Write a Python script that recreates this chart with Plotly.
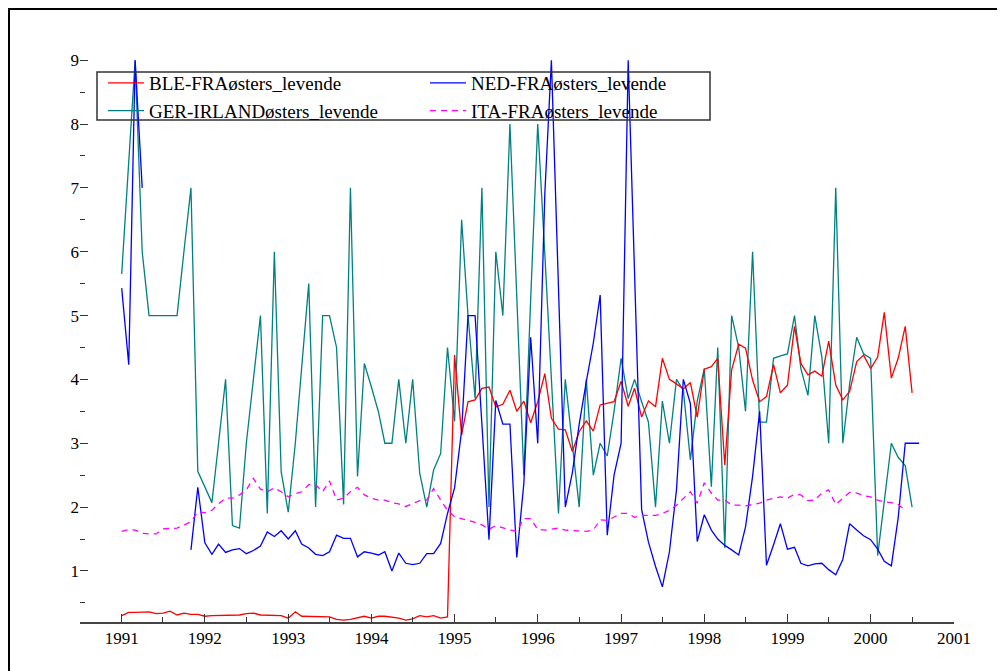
import pandas as pd
import plotly.graph_objects as go

ble = [0.30,0.35,0.35,0.35,0.36,0.33,0.34,0.37,0.31,0.34,0.32,0.32,
       0.29,0.30,0.30,0.31,0.30,0.31,0.33,0.34,0.31,0.31,0.30,0.30,
       0.26,0.36,0.29,0.29,0.28,0.29,0.28,0.24,0.23,0.24,0.26,0.29,
       0.26,0.29,0.29,0.28,0.26,0.23,0.25,0.30,0.28,0.30,0.26,0.28,
       4.38,3.13,3.65,3.68,3.86,3.88,3.57,3.61,3.83,3.50,3.66,3.32,
       3.65,4.09,3.39,3.22,3.21,2.87,3.18,3.35,3.19,3.60,3.62,3.65,
       3.97,3.58,3.86,3.41,3.66,3.57,4.33,4.00,3.93,3.85,3.95,3.41,
       4.16,4.20,4.33,2.66,4.15,4.55,4.49,3.99,3.65,3.73,4.23,3.79,
       3.91,4.83,4.25,4.07,4.13,4.05,4.60,3.91,3.68,3.81,4.28,4.38,
       4.17,4.35,5.05,4.02,4.33,4.83,3.79]

ned = [5.43,4.23,9.0,7.0,None,None,None,None,None,None,1.33,2.31,
       1.44,1.26,1.42,1.29,1.33,1.35,1.27,1.32,1.39,1.61,1.54,1.63,
       1.50,1.63,1.42,1.36,1.26,1.24,1.30,1.56,1.51,1.51,1.22,1.30,
       1.28,1.25,1.30,1.00,1.28,1.12,1.10,1.12,1.27,1.27,1.43,1.90,
       2.30,3.20,5.0,5.0,3.30,1.49,3.67,3.30,3.30,1.21,2.37,4.66,
       3.0,6.9,9.0,5.5,2.0,2.54,3.3,3.96,4.57,5.32,1.56,2.5,
       3.0,9.0,5.5,1.96,1.45,1.07,0.75,1.3,2.27,4.0,3.62,1.46,
       1.88,1.64,1.5,1.4,1.33,1.25,1.69,2.48,3.5,1.09,1.41,1.74,
       1.34,1.37,1.12,1.08,1.11,1.12,1.02,0.94,1.18,1.74,1.64,1.55,
       1.49,1.34,1.15,1.08,1.83,3.0,3.0,3.0]

ger = [5.65,7.33,9.0,6.0,5.0,5.0,5.0,5.0,5.0,6.0,7.0,2.56,
       2.3,2.07,3.0,4.0,1.71,1.67,3.0,4.0,5.0,1.9,6.0,2.55,
       1.92,3.0,4.2,5.5,2.0,5.0,5.0,4.5,2.04,7.0,2.48,4.25,
       3.88,3.49,3.0,3.0,4.0,3.0,4.0,2.53,2.0,2.58,2.84,4.5,
       3.34,6.5,5.0,3.7,7.0,2.0,6.0,5.0,8.0,5.25,2.5,5.25,
       8.0,5.97,3.93,1.9,4.0,3.0,2.0,4.0,2.5,3.0,2.8,3.5,
       4.33,3.7,4.0,3.65,3.33,2.0,3.66,3.0,4.0,3.83,2.74,3.66,
       4.17,2.32,4.5,1.36,5.0,4.5,3.5,6.0,3.33,3.33,4.33,4.37,
       4.4,5.0,4.17,3.75,5.0,4.35,3.0,7.0,3.0,3.93,4.66,4.4,
       4.33,1.24,2.1,3.0,2.78,2.65,2.0]

ita = [1.62,1.65,1.64,1.59,1.58,1.58,1.66,1.67,1.67,1.72,1.77,1.93,
       1.91,1.95,2.05,2.14,2.14,2.19,2.27,2.45,2.28,2.24,2.30,2.24,
       2.16,2.21,2.24,2.35,2.35,2.24,2.41,2.11,2.14,2.24,2.31,2.19,
       2.14,2.11,2.11,2.07,2.05,2.01,2.05,2.10,2.11,2.29,2.11,1.95,
       1.85,1.82,1.80,1.76,1.72,1.65,1.71,1.67,1.64,1.62,1.82,1.82,
       1.65,1.64,1.66,1.67,1.64,1.63,1.63,1.62,1.64,1.80,1.79,1.85,
       1.90,1.90,1.84,1.87,1.87,1.87,1.90,1.95,2.03,2.14,2.24,2.06,
       2.38,2.22,2.11,2.11,2.03,2.03,2.02,2.04,2.06,2.11,2.14,2.16,
       2.14,2.20,2.19,2.10,2.11,2.22,2.27,2.04,2.14,2.23,2.22,2.18,
       2.16,2.11,2.08,2.07,2.04,1.95]

names = ["BLE-FRAøsters_levende", "NED-FRAøsters_levende",
         "GER-IRLANDøsters_levende", "ITA-FRAøsters_levende"]

def months(n):
    return pd.date_range("1991-01-01", periods=n, freq="MS")

FONT = "'Liberation Serif', 'Times New Roman', Times, 'DejaVu Serif', serif"
fig = go.Figure()
fig.add_trace(go.Scatter(x=months(len(ger)), y=ger, name=names[2], mode="lines",
                         line=dict(color="#008080", width=1.3), legendrank=3))
fig.add_trace(go.Scatter(x=months(len(ble)), y=ble, name=names[0], mode="lines",
                         line=dict(color="#ff0000", width=1.3), legendrank=1))
fig.add_trace(go.Scatter(x=months(len(ned)), y=ned, name=names[1], mode="lines",
                         line=dict(color="#0000ff", width=1.3), legendrank=2,
                         connectgaps=False))
fig.add_trace(go.Scatter(x=months(len(ita)), y=ita, name=names[3], mode="lines",
                         line=dict(color="#ff00ff", width=1.3, dash="6px,5px"), legendrank=4))

# page body has an 8px margin: figure is 997x663 placed at (8, 8)
W, H = 997, 663
L, R, T, B = 72, 51, 49, 49
PW, PH = W - L - R, H - T - B

def px_x(page_x):
    return (page_x - 8 - L) / PW

def px_y(page_y):
    return 1 - (page_y - 8 - T) / PH

fig.update_layout(
    width=W, height=H,
    margin=dict(l=L, r=R, t=T, b=B),
    paper_bgcolor="white", plot_bgcolor="white",
    font=dict(family=FONT, size=17, color="black"),
    showlegend=True,
    legend=dict(orientation="h", x=px_x(103), y=px_y(64), xanchor="left", yanchor="top",
                bgcolor="rgba(0,0,0,0)", borderwidth=0,
                entrywidth=271, entrywidthmode="pixels",
                font=dict(family=FONT, size=19, color="black"),
                tracegroupgap=0, itemwidth=36),
    xaxis=dict(type="date", range=["1990-07-02", "2001-01-01"],
               tick0="1991-01-01", dtick="M12", tickformat="%Y",
               ticks="inside", ticklen=8, tickwidth=1, tickcolor="#333",
               showline=True, linecolor="#444", linewidth=1.5,
               showgrid=False, zeroline=False,
               minor=dict(dtick="M6", ticks="inside", ticklen=5, tickcolor="#333", showgrid=False),
               tickfont=dict(family=FONT, size=17, color="black")),
    yaxis=dict(range=[0.2, 9.05], dtick=1, tick0=0,
               ticks="inside", ticklen=8, tickwidth=1, tickcolor="#333",
               showline=False, showgrid=False, zeroline=False,
               minor=dict(dtick=0.5, ticks="inside", ticklen=5, tickcolor="#333"),
               tickfont=dict(family=FONT, size=17, color="black")),
    shapes=[
        dict(type="rect", xref="paper", yref="paper",
             x0=(1 - L) / PW, x1=1.2, y0=-0.2, y1=1 + (T - 1) / PH,
             line=dict(color="black", width=2), fillcolor="rgba(0,0,0,0)"),
        dict(type="rect", xref="paper", yref="paper", layer="above",
             x0=px_x(97), x1=px_x(710), y0=px_y(120), y1=px_y(72),
             line=dict(color="#333", width=1.5), fillcolor="rgba(0,0,0,0)"),
    ],
)

fig.write_html("out.html")
